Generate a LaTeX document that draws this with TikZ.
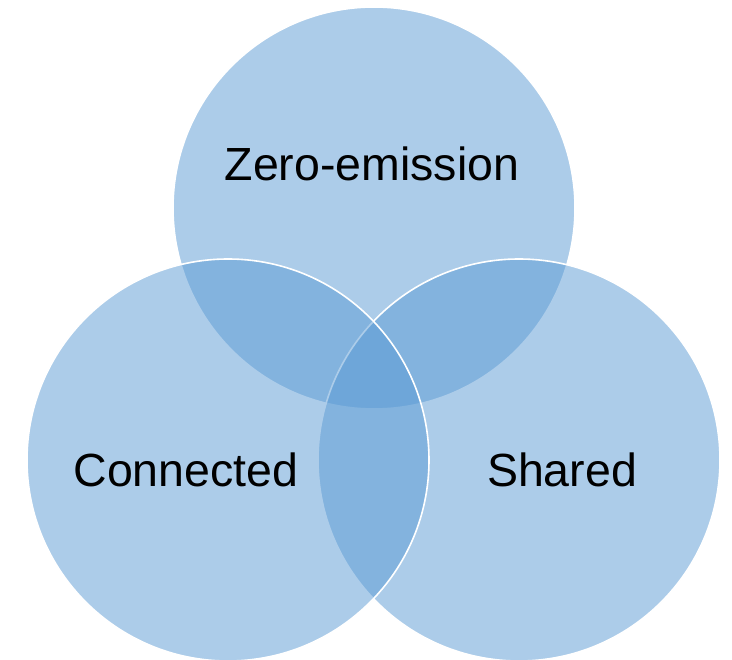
\documentclass[tikz,border=0pt]{standalone}
\usepackage{fontspec}
\setmainfont{Liberation Sans}
\definecolor{venn}{HTML}{5B9BD5}
\tikzset{
  vennset/.style={fill=venn, fill opacity=0.5, draw=white, draw opacity=1, line width=1.6pt},
  lbl/.style={anchor=base, text=black, font=\fontsize{46.5}{55}\selectfont, inner sep=0pt}
}
\begin{document}
\begin{tikzpicture}[x=1pt,y=-1pt]
\useasboundingbox (0,0) rectangle (732,660);
\fill[white] (0,0) rectangle (732,660);
\draw[vennset] (374,208) circle[radius=201];
\draw[vennset] (519,460) circle[radius=201];
\draw[vennset] (228,460) circle[radius=201];
\node[lbl] (zero) at (372,181) {Zero-emission};
\node[lbl] (conn) at (186,487) {Connected};
\node[lbl] (shared) at (562,487) {Shared};
\end{tikzpicture}
\end{document}
